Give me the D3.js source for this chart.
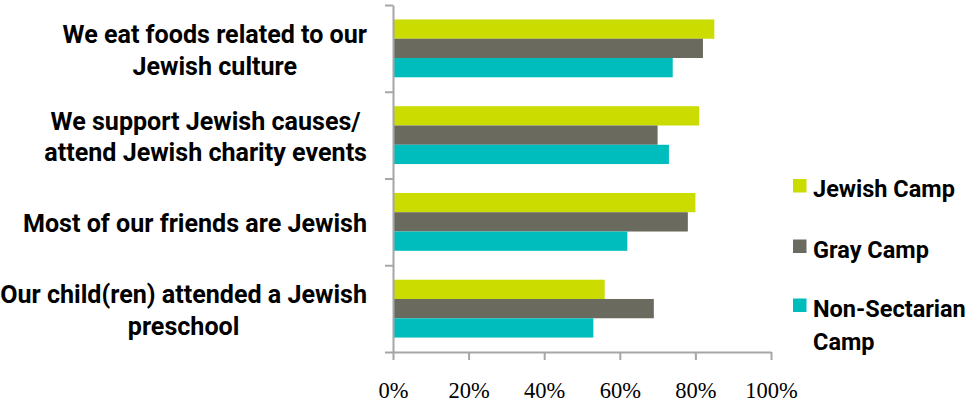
<!DOCTYPE html>
<html>
<head>
<meta charset="utf-8">
<script src="https://cdn.jsdelivr.net/npm/d3@7"></script>
<style>
  body { margin: 0; background: #fff; }
  .cat, .legend text { font-family: Roboto, "Liberation Sans", sans-serif; font-weight: bold; fill: #000; }
  .xaxis text { font-family: "Liberation Serif", serif; font-size: 22.5px; fill: #000; }
  .axis path, .axis line { stroke: #a6a6a6; stroke-width: 2px; }
</style>
</head>
<body>
<script>
// values (percent)
const categories = ["foods", "causes", "friends", "preschool"]
const categoryLines = [
    ["We eat foods related to our", "Jewish culture"],
    ["We support Jewish causes/", "attend Jewish charity events"],
    ["Most of our friends are Jewish"],
    ["Our child(ren) attended a Jewish", "preschool"]
]
const seriesNames = ["Jewish Camp", "Gray Camp", "Non-Sectarian Camp"]
const legendLines = [["Jewish Camp"], ["Gray Camp"], ["Non-Sectarian", "Camp"]]
const jewishCamp = [85, 81, 80, 56]
const grayCamp = [82, 70, 78, 69]
const nonSectarianCamp = [74, 73, 62, 53]
const xTicks = [0, 20, 40, 60, 80, 100]

const colors = ["#cbdc00", "#6b6a5f", "#00bdbd"]
const seriesValues = [jewishCamp, grayCamp, nonSectarianCamp]

const width = 972, height = 402
const plot = {left: 393, right: 771, top: 5, bottom: 352}

const svg = d3.select('body').append('svg')
    .attr('width', width)
    .attr('height', height)

// scales
const xScale = d3.scaleLinear()
    .domain([0, 100])
    .range([plot.left, plot.right])

const yScale = d3.scaleBand()
    .domain(categories)
    .range([plot.top, plot.bottom])

const ySub = d3.scaleBand()
    .domain(seriesNames)
    .range([0, yScale.bandwidth()])
    .paddingOuter(0.75)

// bars
seriesNames.forEach((s, i) => {
    svg.append('g')
        .selectAll('rect')
        .data(seriesValues[i])
        .enter()
        .append('rect')
        .attr('x', xScale(0))
        .attr('y', (d, j) => yScale(categories[j]) + ySub(s))
        .attr('width', d => xScale(d) - xScale(0))
        .attr('height', ySub.bandwidth())
        .attr('fill', colors[i])
})

// left axis: ticks between categories
const yEdge = d3.scaleLinear()
    .domain([0, categories.length])
    .range([plot.top, plot.bottom])

svg.append('g')
    .attr('class', 'axis')
    .attr('transform', 'translate(' + plot.left + ',0)')
    .call(d3.axisLeft(yEdge).tickValues(d3.range(categories.length + 1)).tickSize(8).tickSizeOuter(0).tickFormat(''))

// bottom axis
svg.append('g')
    .attr('class', 'axis xaxis')
    .attr('transform', 'translate(0,' + plot.bottom + ')')
    .call(d3.axisBottom(xScale).tickValues(xTicks).tickSize(8).tickSizeOuter(0).tickPadding(22).tickFormat(d => d + '%'))

// measure a string at 20px to pick a font size that fits a target width
function fitSize(str, target) {
    const t = svg.append('text').attr('class', 'cat').attr('font-size', '20px').text(str)
    const w = t.node().getComputedTextLength()
    t.remove()
    return 20 * target / w
}

// category labels, centred block ending at x=367
const catFont = fitSize("Our child(ren) attended a Jewish", 367)
const labels = svg.append('g')
categoryLines.forEach((lines, j) => {
    const cy = yScale(categories[j]) + yScale.bandwidth() / 2
    const t = labels.append('text')
        .attr('class', 'cat')
        .attr('font-size', catFont + 'px')
        .attr('text-anchor', 'middle')
    lines.forEach((ln, k) => {
        t.append('tspan')
            .attr('x', 0)
            .attr('y', cy + 10.5 + (k - (lines.length - 1) / 2) * 31.7)
            .text(ln)
    })
    const w = d3.max(t.selectAll('tspan').nodes(), n => n.getComputedTextLength())
    t.selectAll('tspan').attr('x', 367 - w / 2)
})

// legend
const legFont = fitSize("Jewish Camp", 142)
const legend = svg.append('g').attr('class', 'legend')
const legendBase = [197, 257.5, 316.5]
seriesNames.forEach((s, i) => {
    legend.append('rect')
        .attr('x', 793)
        .attr('y', legendBase[i] - 18)
        .attr('width', 13.5)
        .attr('height', 13.5)
        .attr('fill', colors[i])
    const t = legend.append('text')
        .attr('font-size', legFont + 'px')
    legendLines[i].forEach((ln, k) => {
        t.append('tspan')
            .attr('x', 813)
            .attr('y', legendBase[i] + k * 33.3)
            .text(ln)
    })
})
</script>
</body>
</html>
